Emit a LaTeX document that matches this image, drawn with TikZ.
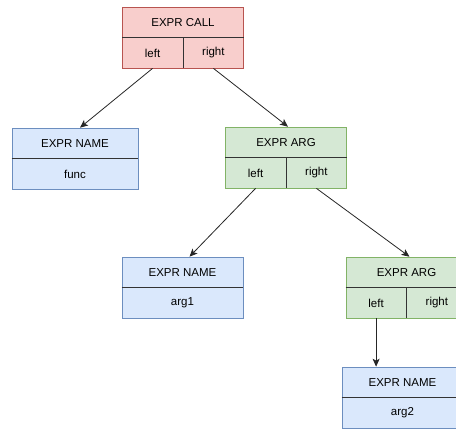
\documentclass[tikz,border=0pt]{standalone}
\usepackage{fontspec}
\setmainfont{Liberation Sans}
\usetikzlibrary{arrows.meta,calc}
\definecolor{pinkF}{HTML}{F8CECC}\definecolor{pinkD}{HTML}{B85450}
\definecolor{greenF}{HTML}{D5E8D4}\definecolor{greenD}{HTML}{82B366}
\definecolor{blueF}{HTML}{DAE8FC}\definecolor{blueD}{HTML}{6C8EBF}
\tikzset{
  box/.style={rectangle, minimum width=121pt, minimum height=61pt, inner sep=0pt, line width=0.6pt},
  txt/.style={inner sep=0pt, font=\fontsize{11.5}{13}\selectfont},
  cell/.style={txt, minimum width=60.5pt, minimum height=30.5pt},
  div/.style={draw=black!80, line width=0.6pt},
  link/.style={draw=black!85, line width=0.8pt, -{Stealth[length=8pt,width=7pt,inset=2pt]}}
}
% name, x, y, title, fill, draw
\newcommand{\splitbox}[6]{%
  \node[box, fill=#5, draw=#6] (#1) at (#2,#3) {};
  \draw[div] (#1.west) -- (#1.east);
  \draw[div] (#1.center) -- (#1.south);
  \node[txt] (#1-h) at ($(#1.center)!0.5!(#1.north)$) {#4};
  \node[cell] (#1-l) at ($(#1.center)!0.5!(#1.south west)$) {left};
  \node[cell] (#1-r) at ($(#1.center)!0.5!(#1.south east)$) {right};
}
% name, x, y, value, width
\newcommand{\namebox}[5]{%
  \node[box, fill=blueF, draw=blueD, minimum width=#5] (#1) at (#2,#3) {};
  \draw[div] (#1.west) -- (#1.east);
  \node[txt] (#1-h) at ($(#1.center)!0.5!(#1.north)$) {EXPR NAME};
  \node[txt] (#1-v) at ($(#1.center)!0.5!(#1.south)$) {#4};
}
\begin{document}
\begin{tikzpicture}[x=1pt,y=-1pt]
\useasboundingbox (0,0) rectangle (456,429);
\clip (0,0) rectangle (456,429);
\splitbox{call}{183}{37.5}{EXPR CALL}{pinkF}{pinkD}
\namebox{func}{75}{158.5}{func}{126pt}
\splitbox{argA}{286}{157.5}{EXPR ARG}{greenF}{greenD}
\namebox{argone}{182.5}{287.5}{arg1}{121pt}
\splitbox{argB}{406.5}{287.5}{EXPR ARG}{greenF}{greenD}
\namebox{argtwo}{402.5}{397.5}{arg2}{121pt}
\draw[link] (call-l.south) -- ($(func.north)+(5,0)$);
\draw[link] (call-r.south) -- ($(argA.north)+(2,0)$);
\draw[link] (argA-l.south) -- ($(argone.north)+(7,0)$);
\draw[link] (argA-r.south) -- ($(argB.north)+(3,0)$);
\draw[link] (argB-l.south) -- (argB-l.south |- argtwo.north);
\end{tikzpicture}
\end{document}
